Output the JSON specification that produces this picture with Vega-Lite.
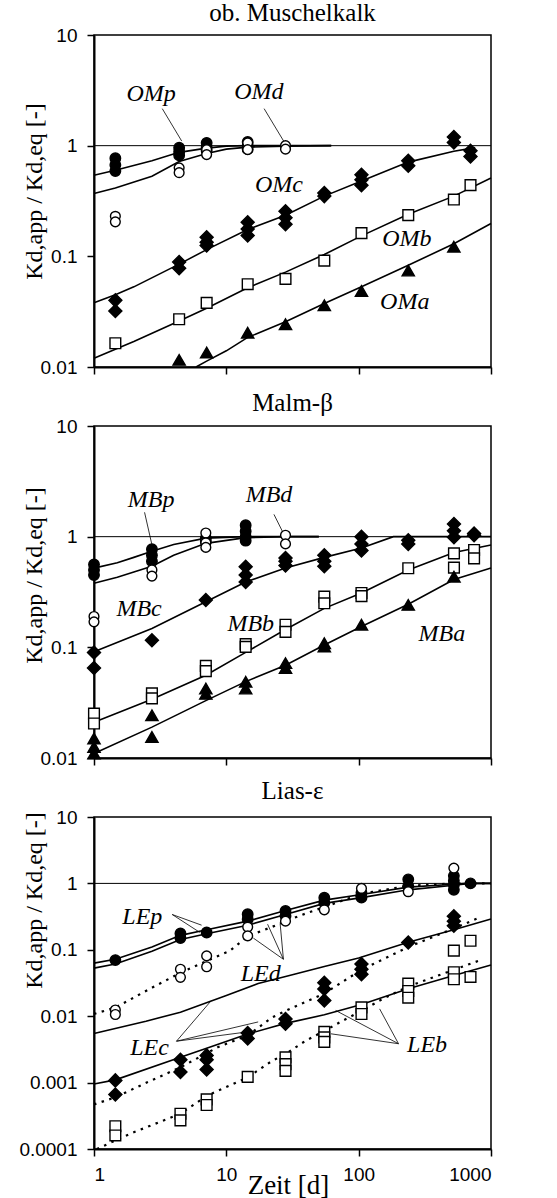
{
  "$schema": "https://vega.github.io/schema/vega-lite/v6.json",
  "background": "white",
  "padding": {"left": 18, "top": 0, "right": 10, "bottom": 0},
  "spacing": 59,
  "bounds": "flush",
  "config": {
    "font": "Liberation Serif",
    "view": {"stroke": "black", "strokeWidth": 1.5},
    "axis": {"domainColor": "black", "domainWidth": 2, "tickColor": "black", "tickWidth": 1.5, "tickSize": 7, "labelColor": "black", "labelFont": "Liberation Sans", "labelFontSize": 19, "labelPadding": 10, "grid": false, "titleFont": "Liberation Serif", "titleFontWeight": "normal", "titleColor": "black", "titleFontSize": 24},
    "title": {"font": "Liberation Serif", "fontSize": 25, "fontWeight": "normal", "color": "black", "anchor": "middle"},
    "text": {"font": "Liberation Serif", "fontStyle": "italic", "fontSize": 24, "color": "black"}
  },
  "datasets": {
    "pts1": [
      {"s":"p","t":1.45,"v":0.77},{"s":"p","t":1.45,"v":0.67},{"s":"p","t":1.45,"v":0.59},
      {"s":"p","t":4.4,"v":0.96},{"s":"p","t":4.4,"v":0.88},{"s":"p","t":4.4,"v":0.82},
      {"s":"p","t":7.1,"v":1.06},{"s":"p","t":7.1,"v":0.97},{"s":"p","t":7.1,"v":0.9},
      {"s":"p","t":14.5,"v":1.08},{"s":"p","t":14.5,"v":1.0},{"s":"p","t":14.5,"v":0.93},
      {"s":"d","t":1.45,"v":0.23},{"s":"d","t":1.45,"v":0.205},{"s":"d","t":4.4,"v":0.63},{"s":"d","t":4.4,"v":0.57},
      {"s":"d","t":7.1,"v":0.92},{"s":"d","t":7.1,"v":0.83},{"s":"d","t":14.5,"v":1.06},{"s":"d","t":14.5,"v":0.92},
      {"s":"d","t":28,"v":1.0},{"s":"d","t":28,"v":0.93},
      {"s":"c","t":1.45,"v":0.04},{"s":"c","t":1.45,"v":0.032},{"s":"c","t":4.4,"v":0.089},{"s":"c","t":4.4,"v":0.078},
      {"s":"c","t":7.1,"v":0.149},{"s":"c","t":7.1,"v":0.134},{"s":"c","t":7.1,"v":0.125},
      {"s":"c","t":14.5,"v":0.203},{"s":"c","t":14.5,"v":0.177},{"s":"c","t":14.5,"v":0.154},
      {"s":"c","t":28,"v":0.256},{"s":"c","t":28,"v":0.223},{"s":"c","t":28,"v":0.195},
      {"s":"c","t":55,"v":0.374},{"s":"c","t":55,"v":0.35},
      {"s":"c","t":105,"v":0.546},{"s":"c","t":105,"v":0.493},{"s":"c","t":105,"v":0.438},
      {"s":"c","t":237,"v":0.73},{"s":"c","t":237,"v":0.66},
      {"s":"c","t":524,"v":1.2},{"s":"c","t":524,"v":1.07},{"s":"c","t":700,"v":0.9},{"s":"c","t":700,"v":0.8},
      {"s":"b","t":1.45,"v":0.0164},{"s":"b","t":4.4,"v":0.027},{"s":"b","t":7.1,"v":0.038},{"s":"b","t":14.5,"v":0.056},
      {"s":"b","t":28,"v":0.0626},{"s":"b","t":55,"v":0.0915},{"s":"b","t":105,"v":0.162},{"s":"b","t":237,"v":0.236},
      {"s":"b","t":524,"v":0.326},{"s":"b","t":700,"v":0.44},
      {"s":"a","t":4.4,"v":0.0116},{"s":"a","t":7.1,"v":0.0135},{"s":"a","t":14.5,"v":0.0204},{"s":"a","t":28,"v":0.0244},
      {"s":"a","t":55,"v":0.0361},{"s":"a","t":105,"v":0.0486},{"s":"a","t":237,"v":0.0744},{"s":"a","t":524,"v":0.122}
    ],
    "lines1": [
      {"curve":"ref","model":"ref","t":1,"v":1},{"curve":"ref","model":"ref","t":1000,"v":1},
      {"curve":"OMp","model":"1","t":1,"v":0.54},{"curve":"OMp","model":"1","t":1.45,"v":0.6},{"curve":"OMp","model":"1","t":2.74,"v":0.73},
      {"curve":"OMp","model":"1","t":4.4,"v":0.87},{"curve":"OMp","model":"1","t":7.1,"v":0.95},{"curve":"OMp","model":"1","t":10,"v":0.99},
      {"curve":"OMp","model":"1","t":14.5,"v":1.0},{"curve":"OMp","model":"1","t":62,"v":1.0},
      {"curve":"OMd","model":"1","t":1,"v":0.37},{"curve":"OMd","model":"1","t":1.45,"v":0.415},{"curve":"OMd","model":"1","t":2.74,"v":0.53},
      {"curve":"OMd","model":"1","t":4.4,"v":0.72},{"curve":"OMd","model":"1","t":7.1,"v":0.85},{"curve":"OMd","model":"1","t":10,"v":0.93},
      {"curve":"OMd","model":"1","t":14.5,"v":0.97},{"curve":"OMd","model":"1","t":28,"v":0.99},{"curve":"OMd","model":"1","t":62,"v":1.0},
      {"curve":"OMc","model":"1","t":1,"v":0.038},{"curve":"OMc","model":"1","t":1.45,"v":0.045},{"curve":"OMc","model":"1","t":2,"v":0.053},
      {"curve":"OMc","model":"1","t":4.4,"v":0.085},{"curve":"OMc","model":"1","t":7.1,"v":0.115},{"curve":"OMc","model":"1","t":14.5,"v":0.175},
      {"curve":"OMc","model":"1","t":28,"v":0.235},{"curve":"OMc","model":"1","t":55,"v":0.35},{"curve":"OMc","model":"1","t":105,"v":0.48},
      {"curve":"OMc","model":"1","t":237,"v":0.71},{"curve":"OMc","model":"1","t":524,"v":0.89},{"curve":"OMc","model":"1","t":760,"v":0.96},
      {"curve":"OMb","model":"1","t":1,"v":0.012},{"curve":"OMb","model":"1","t":1.45,"v":0.0145},{"curve":"OMb","model":"1","t":2,"v":0.017},
      {"curve":"OMb","model":"1","t":4.4,"v":0.026},{"curve":"OMb","model":"1","t":7.1,"v":0.034},{"curve":"OMb","model":"1","t":14.5,"v":0.052},
      {"curve":"OMb","model":"1","t":28,"v":0.072},{"curve":"OMb","model":"1","t":55,"v":0.104},{"curve":"OMb","model":"1","t":105,"v":0.153},
      {"curve":"OMb","model":"1","t":237,"v":0.24},{"curve":"OMb","model":"1","t":524,"v":0.35},{"curve":"OMb","model":"1","t":1000,"v":0.51},
      {"curve":"OMa","model":"1","t":5.9,"v":0.01},{"curve":"OMa","model":"1","t":7.1,"v":0.0113},{"curve":"OMa","model":"1","t":10,"v":0.014},
      {"curve":"OMa","model":"1","t":14.5,"v":0.0185},{"curve":"OMa","model":"1","t":28,"v":0.0256},{"curve":"OMa","model":"1","t":55,"v":0.0375},
      {"curve":"OMa","model":"1","t":105,"v":0.053},{"curve":"OMa","model":"1","t":237,"v":0.083},{"curve":"OMa","model":"1","t":524,"v":0.13},
      {"curve":"OMa","model":"1","t":1000,"v":0.198}
    ],
    "leaders1": [
      {"id":"OMp","t":3.28,"v":2.16},{"id":"OMp","t":4.6,"v":1.1},
      {"id":"OMd","t":19.3,"v":2.16},{"id":"OMd","t":27.3,"v":1.085}
    ],
    "labels1": [
      {"text":"OMp","t":2.7,"v":2.94},{"text":"OMd","t":17.6,"v":3.07},{"text":"OMc","t":25,"v":0.445},
      {"text":"OMb","t":231,"v":0.142},{"text":"OMa","t":223,"v":0.039}
    ],
    "pts2": [
      {"s":"p","t":1,"v":0.56},{"s":"p","t":1,"v":0.5},{"s":"p","t":1,"v":0.45},
      {"s":"p","t":2.74,"v":0.77},{"s":"p","t":2.74,"v":0.68},{"s":"p","t":2.74,"v":0.6},
      {"s":"p","t":7,"v":0.97},{"s":"p","t":7,"v":0.9},
      {"s":"p","t":14,"v":1.27},{"s":"p","t":14,"v":1.12},{"s":"p","t":14,"v":1.0},{"s":"p","t":14,"v":0.92},
      {"s":"d","t":1,"v":0.19},{"s":"d","t":1,"v":0.17},{"s":"d","t":2.74,"v":0.5},{"s":"d","t":2.74,"v":0.44},
      {"s":"d","t":7,"v":1.08},{"s":"d","t":7,"v":0.88},{"s":"d","t":7,"v":0.8},{"s":"d","t":28,"v":1.03},{"s":"d","t":28,"v":0.86},
      {"s":"c","t":1,"v":0.09},{"s":"c","t":1,"v":0.065},{"s":"c","t":2.74,"v":0.116},{"s":"c","t":7,"v":0.268},
      {"s":"c","t":14,"v":0.536},{"s":"c","t":14,"v":0.45},{"s":"c","t":14,"v":0.39},
      {"s":"c","t":28,"v":0.64},{"s":"c","t":28,"v":0.6},{"s":"c","t":28,"v":0.55},
      {"s":"c","t":55,"v":0.68},{"s":"c","t":55,"v":0.6},{"s":"c","t":55,"v":0.54},
      {"s":"c","t":105,"v":1.0},{"s":"c","t":105,"v":0.86},{"s":"c","t":105,"v":0.75},
      {"s":"c","t":237,"v":0.93},{"s":"c","t":237,"v":0.86},
      {"s":"c","t":525,"v":1.3},{"s":"c","t":525,"v":1.13},{"s":"c","t":525,"v":0.99},
      {"s":"c","t":745,"v":1.07},{"s":"c","t":745,"v":1.03},
      {"s":"b","t":1,"v":0.0252},{"s":"b","t":1,"v":0.0205},{"s":"b","t":2.74,"v":0.0384},{"s":"b","t":2.74,"v":0.0346},
      {"s":"b","t":7,"v":0.068},{"s":"b","t":7,"v":0.061},{"s":"b","t":14,"v":0.107},{"s":"b","t":14,"v":0.101},
      {"s":"b","t":28,"v":0.16},{"s":"b","t":28,"v":0.138},{"s":"b","t":55,"v":0.287},{"s":"b","t":55,"v":0.25},
      {"s":"b","t":105,"v":0.31},{"s":"b","t":105,"v":0.29},{"s":"b","t":237,"v":0.518},
      {"s":"b","t":525,"v":0.707},{"s":"b","t":525,"v":0.525},{"s":"b","t":745,"v":0.758},{"s":"b","t":745,"v":0.637},
      {"s":"a","t":1,"v":0.015},{"s":"a","t":1,"v":0.0126},{"s":"a","t":1,"v":0.011},
      {"s":"a","t":2.74,"v":0.0243},{"s":"a","t":2.74,"v":0.0155},{"s":"a","t":7,"v":0.0424},{"s":"a","t":7,"v":0.038},
      {"s":"a","t":14,"v":0.0488},{"s":"a","t":14,"v":0.0424},{"s":"a","t":28,"v":0.072},{"s":"a","t":28,"v":0.065},
      {"s":"a","t":55,"v":0.109},{"s":"a","t":55,"v":0.102},{"s":"a","t":105,"v":0.16},{"s":"a","t":237,"v":0.242},{"s":"a","t":525,"v":0.435}
    ],
    "lines2": [
      {"curve":"ref","model":"ref","t":1,"v":1},{"curve":"ref","model":"ref","t":1000,"v":1},
      {"curve":"MBp","model":"1","t":1,"v":0.52},{"curve":"MBp","model":"1","t":1.5,"v":0.58},{"curve":"MBp","model":"1","t":2,"v":0.65},
      {"curve":"MBp","model":"1","t":2.74,"v":0.74},{"curve":"MBp","model":"1","t":4,"v":0.85},{"curve":"MBp","model":"1","t":7,"v":0.97},
      {"curve":"MBp","model":"1","t":14,"v":1.0},{"curve":"MBp","model":"1","t":50,"v":1.0},
      {"curve":"MBd","model":"1","t":1,"v":0.38},{"curve":"MBd","model":"1","t":1.5,"v":0.43},{"curve":"MBd","model":"1","t":2,"v":0.48},
      {"curve":"MBd","model":"1","t":2.74,"v":0.54},{"curve":"MBd","model":"1","t":4,"v":0.68},{"curve":"MBd","model":"1","t":7,"v":0.87},
      {"curve":"MBd","model":"1","t":14,"v":0.98},{"curve":"MBd","model":"1","t":28,"v":1.0},{"curve":"MBd","model":"1","t":50,"v":1.0},
      {"curve":"MBc","model":"1","t":1,"v":0.091},{"curve":"MBc","model":"1","t":2.74,"v":0.148},{"curve":"MBc","model":"1","t":7,"v":0.258},
      {"curve":"MBc","model":"1","t":14,"v":0.39},{"curve":"MBc","model":"1","t":28,"v":0.52},{"curve":"MBc","model":"1","t":55,"v":0.65},
      {"curve":"MBc","model":"1","t":105,"v":0.79},{"curve":"MBc","model":"1","t":183,"v":1.0},{"curve":"MBc","model":"1","t":1000,"v":1.0},
      {"curve":"MBb","model":"1","t":1,"v":0.021},{"curve":"MBb","model":"1","t":2.74,"v":0.034},{"curve":"MBb","model":"1","t":7,"v":0.056},
      {"curve":"MBb","model":"1","t":14,"v":0.09},{"curve":"MBb","model":"1","t":28,"v":0.145},{"curve":"MBb","model":"1","t":55,"v":0.225},
      {"curve":"MBb","model":"1","t":105,"v":0.31},{"curve":"MBb","model":"1","t":237,"v":0.5},{"curve":"MBb","model":"1","t":525,"v":0.72},
      {"curve":"MBb","model":"1","t":1000,"v":0.84},
      {"curve":"MBa","model":"1","t":1,"v":0.011},{"curve":"MBa","model":"1","t":2.74,"v":0.019},{"curve":"MBa","model":"1","t":7,"v":0.033},
      {"curve":"MBa","model":"1","t":14,"v":0.049},{"curve":"MBa","model":"1","t":28,"v":0.069},{"curve":"MBa","model":"1","t":55,"v":0.105},
      {"curve":"MBa","model":"1","t":105,"v":0.154},{"curve":"MBa","model":"1","t":237,"v":0.245},{"curve":"MBa","model":"1","t":525,"v":0.41},
      {"curve":"MBa","model":"1","t":1000,"v":0.52}
    ],
    "leaders2": [
      {"id":"MBp","t":2.41,"v":1.66},{"id":"MBp","t":2.73,"v":0.86},
      {"id":"MBd","t":22.9,"v":1.59},{"id":"MBd","t":26.8,"v":1.09}
    ],
    "labels2": [
      {"text":"MBp","t":2.7,"v":2.13},{"text":"MBd","t":21,"v":2.36},{"text":"MBc","t":2.19,"v":0.224},
      {"text":"MBb","t":15.3,"v":0.164},{"text":"MBa","t":425,"v":0.133}
    ],
    "pts3": [
      {"s":"p","t":1.45,"v":0.07},{"s":"p","t":4.5,"v":0.176},{"s":"p","t":4.5,"v":0.15},{"s":"p","t":7.1,"v":0.182},
      {"s":"p","t":14.5,"v":0.343},{"s":"p","t":14.5,"v":0.288},{"s":"p","t":28,"v":0.385},{"s":"p","t":28,"v":0.324},
      {"s":"p","t":55,"v":0.61},{"s":"p","t":55,"v":0.51},{"s":"p","t":105,"v":0.72},{"s":"p","t":105,"v":0.61},
      {"s":"p","t":237,"v":1.15},{"s":"p","t":237,"v":0.91},
      {"s":"p","t":524,"v":1.3},{"s":"p","t":524,"v":1.1},{"s":"p","t":524,"v":0.95},{"s":"p","t":524,"v":0.8},{"s":"p","t":700,"v":1.0},
      {"s":"d","t":1.45,"v":0.0124},{"s":"d","t":1.45,"v":0.0106},{"s":"d","t":4.5,"v":0.051},{"s":"d","t":4.5,"v":0.0385},
      {"s":"d","t":7.1,"v":0.081},{"s":"d","t":7.1,"v":0.0556},{"s":"d","t":14.5,"v":0.22},{"s":"d","t":14.5,"v":0.162},
      {"s":"d","t":28,"v":0.27},{"s":"d","t":55,"v":0.4},{"s":"d","t":105,"v":0.84},{"s":"d","t":237,"v":0.75},{"s":"d","t":524,"v":1.7},
      {"s":"c","t":1.45,"v":0.00108},{"s":"c","t":1.45,"v":0.00066},{"s":"c","t":4.5,"v":0.0022},{"s":"c","t":4.5,"v":0.00145},
      {"s":"c","t":7.1,"v":0.00257},{"s":"c","t":7.1,"v":0.0022},{"s":"c","t":7.1,"v":0.00157},
      {"s":"c","t":14.5,"v":0.0056},{"s":"c","t":14.5,"v":0.0046},{"s":"c","t":28,"v":0.0091},{"s":"c","t":28,"v":0.0077},
      {"s":"c","t":55,"v":0.032},{"s":"c","t":55,"v":0.0257},{"s":"c","t":55,"v":0.0172},
      {"s":"c","t":105,"v":0.061},{"s":"c","t":105,"v":0.051},{"s":"c","t":105,"v":0.043},{"s":"c","t":237,"v":0.129},
      {"s":"c","t":524,"v":0.32},{"s":"c","t":524,"v":0.27},{"s":"c","t":524,"v":0.23},
      {"s":"b","t":1.45,"v":0.00022},{"s":"b","t":1.45,"v":0.00016},{"s":"b","t":4.5,"v":0.00034},{"s":"b","t":4.5,"v":0.00027},
      {"s":"b","t":7.1,"v":0.00056},{"s":"b","t":7.1,"v":0.00046},{"s":"b","t":14.5,"v":0.00122},
      {"s":"b","t":28,"v":0.0024},{"s":"b","t":28,"v":0.0019},{"s":"b","t":28,"v":0.0015},
      {"s":"b","t":55,"v":0.0058},{"s":"b","t":55,"v":0.0048},{"s":"b","t":55,"v":0.0041},
      {"s":"b","t":105,"v":0.0136},{"s":"b","t":105,"v":0.0108},{"s":"b","t":237,"v":0.031},{"s":"b","t":237,"v":0.024},{"s":"b","t":237,"v":0.019},
      {"s":"b","t":524,"v":0.097},{"s":"b","t":524,"v":0.046},{"s":"b","t":524,"v":0.036},{"s":"b","t":700,"v":0.137},{"s":"b","t":700,"v":0.039}
    ],
    "lines3": [
      {"curve":"ref","model":"ref","t":1,"v":1},{"curve":"ref","model":"ref","t":1000,"v":1},
      {"curve":"LEp","model":"1","t":1,"v":0.063},{"curve":"LEp","model":"1","t":1.45,"v":0.072},{"curve":"LEp","model":"1","t":2.74,"v":0.11},
      {"curve":"LEp","model":"1","t":4.5,"v":0.165},{"curve":"LEp","model":"1","t":7.1,"v":0.2},{"curve":"LEp","model":"1","t":14.5,"v":0.27},
      {"curve":"LEp","model":"1","t":28,"v":0.39},{"curve":"LEp","model":"1","t":55,"v":0.56},{"curve":"LEp","model":"1","t":105,"v":0.68},
      {"curve":"LEp","model":"1","t":237,"v":0.88},{"curve":"LEp","model":"1","t":524,"v":0.97},{"curve":"LEp","model":"1","t":640,"v":1.0},
      {"curve":"LEp","model":"1","t":1000,"v":1.0},
      {"curve":"LEd1","model":"1","t":1,"v":0.053},{"curve":"LEd1","model":"1","t":1.45,"v":0.061},{"curve":"LEd1","model":"1","t":2.74,"v":0.095},
      {"curve":"LEd1","model":"1","t":4.5,"v":0.143},{"curve":"LEd1","model":"1","t":7.1,"v":0.175},{"curve":"LEd1","model":"1","t":14.5,"v":0.235},
      {"curve":"LEd1","model":"1","t":28,"v":0.34},{"curve":"LEd1","model":"1","t":55,"v":0.5},{"curve":"LEd1","model":"1","t":105,"v":0.61},
      {"curve":"LEd1","model":"1","t":237,"v":0.8},{"curve":"LEd1","model":"1","t":524,"v":0.94},{"curve":"LEd1","model":"1","t":700,"v":1.0},
      {"curve":"LEd1","model":"1","t":1000,"v":1.0},
      {"curve":"LEc1","model":"1","t":1,"v":0.0055},{"curve":"LEc1","model":"1","t":2.47,"v":0.0084},{"curve":"LEc1","model":"1","t":4.5,"v":0.0115},
      {"curve":"LEc1","model":"1","t":10,"v":0.0205},{"curve":"LEc1","model":"1","t":17.4,"v":0.031},{"curve":"LEc1","model":"1","t":30,"v":0.041},
      {"curve":"LEc1","model":"1","t":55,"v":0.056},{"curve":"LEc1","model":"1","t":100,"v":0.075},{"curve":"LEc1","model":"1","t":237,"v":0.13},
      {"curve":"LEc1","model":"1","t":524,"v":0.2},{"curve":"LEc1","model":"1","t":1000,"v":0.29},
      {"curve":"LEb1","model":"1","t":1,"v":0.00095},{"curve":"LEb1","model":"1","t":1.45,"v":0.0011},{"curve":"LEb1","model":"1","t":4.5,"v":0.0024},
      {"curve":"LEb1","model":"1","t":7.1,"v":0.0033},{"curve":"LEb1","model":"1","t":14.5,"v":0.0054},{"curve":"LEb1","model":"1","t":22,"v":0.0068},
      {"curve":"LEb1","model":"1","t":28,"v":0.0078},{"curve":"LEb1","model":"1","t":55,"v":0.0105},{"curve":"LEb1","model":"1","t":105,"v":0.015},
      {"curve":"LEb1","model":"1","t":237,"v":0.026},{"curve":"LEb1","model":"1","t":524,"v":0.041},{"curve":"LEb1","model":"1","t":1000,"v":0.059},
      {"curve":"LEd2","model":"2","t":1,"v":0.0108},{"curve":"LEd2","model":"2","t":1.45,"v":0.0135},{"curve":"LEd2","model":"2","t":2.76,"v":0.027},
      {"curve":"LEd2","model":"2","t":4.5,"v":0.045},{"curve":"LEd2","model":"2","t":7.1,"v":0.068},{"curve":"LEd2","model":"2","t":10.6,"v":0.096},
      {"curve":"LEd2","model":"2","t":14.5,"v":0.16},{"curve":"LEd2","model":"2","t":22,"v":0.22},{"curve":"LEd2","model":"2","t":28,"v":0.27},
      {"curve":"LEd2","model":"2","t":41,"v":0.36},{"curve":"LEd2","model":"2","t":55,"v":0.44},{"curve":"LEd2","model":"2","t":105,"v":0.7},
      {"curve":"LEd2","model":"2","t":237,"v":0.92},{"curve":"LEd2","model":"2","t":524,"v":1.0},{"curve":"LEd2","model":"2","t":1000,"v":1.0},
      {"curve":"LEc2","model":"2","t":1,"v":0.00047},{"curve":"LEc2","model":"2","t":1.45,"v":0.0006},{"curve":"LEc2","model":"2","t":2.5,"v":0.001},
      {"curve":"LEc2","model":"2","t":4.5,"v":0.0017},{"curve":"LEc2","model":"2","t":8.6,"v":0.0034},{"curve":"LEc2","model":"2","t":14.7,"v":0.0052},
      {"curve":"LEc2","model":"2","t":22,"v":0.0095},{"curve":"LEc2","model":"2","t":28,"v":0.012},{"curve":"LEc2","model":"2","t":55,"v":0.022},
      {"curve":"LEc2","model":"2","t":105,"v":0.05},{"curve":"LEc2","model":"2","t":237,"v":0.11},{"curve":"LEc2","model":"2","t":524,"v":0.21},
      {"curve":"LEc2","model":"2","t":800,"v":0.3},
      {"curve":"LEb2","model":"2","t":1.05,"v":0.0001},{"curve":"LEb2","model":"2","t":1.88,"v":0.00017},{"curve":"LEb2","model":"2","t":4.5,"v":0.00034},
      {"curve":"LEb2","model":"2","t":7.1,"v":0.00063},{"curve":"LEb2","model":"2","t":14.5,"v":0.0012},{"curve":"LEb2","model":"2","t":22,"v":0.0021},
      {"curve":"LEb2","model":"2","t":28,"v":0.0027},{"curve":"LEb2","model":"2","t":40,"v":0.0043},{"curve":"LEb2","model":"2","t":55,"v":0.006},
      {"curve":"LEb2","model":"2","t":77,"v":0.0087},{"curve":"LEb2","model":"2","t":105,"v":0.012},{"curve":"LEb2","model":"2","t":150,"v":0.018},
      {"curve":"LEb2","model":"2","t":237,"v":0.028},{"curve":"LEb2","model":"2","t":524,"v":0.05},{"curve":"LEb2","model":"2","t":800,"v":0.068}
    ],
    "leaders3": [
      {"id":"p1","t":3.9,"v":0.34},{"id":"p1","t":6.5,"v":0.235},
      {"id":"p2","t":3.9,"v":0.34},{"id":"p2","t":6.3,"v":0.183},
      {"id":"d1","t":27,"v":0.072},{"id":"d1","t":16,"v":0.15},
      {"id":"d2","t":27,"v":0.072},{"id":"d2","t":20.5,"v":0.243},
      {"id":"d3","t":27,"v":0.072},{"id":"d3","t":25.5,"v":0.25},
      {"id":"c1","t":4.2,"v":0.0042},{"id":"c1","t":7.7,"v":0.0172},
      {"id":"c2","t":4.2,"v":0.0042},{"id":"c2","t":17.4,"v":0.0082},
      {"id":"c3","t":4.2,"v":0.0042},{"id":"c3","t":14.4,"v":0.0058},
      {"id":"b1","t":200,"v":0.00385},{"id":"b1","t":67,"v":0.0122},
      {"id":"b2","t":200,"v":0.00385},{"id":"b2","t":144,"v":0.0129},
      {"id":"b3","t":200,"v":0.00385},{"id":"b3","t":61.8,"v":0.00543}
    ],
    "labels3": [
      {"text":"LEp","t":2.32,"v":0.31},{"text":"LEd","t":18.2,"v":0.0437},
      {"text":"LEc","t":2.63,"v":0.00336},{"text":"LEb","t":329,"v":0.00363}
    ]
  },
  "vconcat": [
    {
      "width": 397, "height": 332,
      "title": {"text": "ob. Muschelkalk", "offset": 0, "font": "Liberation Serif"},
      "encoding": {
        "x": {"field": "t", "type": "quantitative", "scale": {"type": "log", "domain": [1, 1000], "nice": false}, "axis": {"values": [1, 10, 100, 1000], "labels": false, "title": null}},
        "y": {"field": "v", "type": "quantitative", "scale": {"type": "log", "domain": [0.01, 10], "nice": false}, "axis": {"values": [0.01, 0.1, 1, 10], "format": "~g", "title": "Kd,app / Kd,eq  [-]", "titleFont": "Liberation Serif", "titleX": -53, "titleY": 156, "titleBaseline": "alphabetic"}}
      },
      "layer": [
        {"data": {"name": "lines1"}, "transform": [{"filter": "datum.model === 'ref'"}], "mark": {"type": "line", "color": "black", "strokeWidth": 1}, "encoding": {"detail": {"field": "curve"}}},
        {"data": {"name": "lines1"}, "transform": [{"filter": "datum.model === '1'"}], "mark": {"type": "line", "color": "black", "strokeWidth": 1.6}, "encoding": {"detail": {"field": "curve"}}},
        {"data": {"name": "leaders1"}, "mark": {"type": "line", "color": "black", "strokeWidth": 0.8}, "encoding": {"detail": {"field": "id"}}},
        {"data": {"name": "pts1"}, "mark": {"type": "point", "filled": true, "stroke": "black", "strokeWidth": 1.4, "opacity": 1},
         "encoding": {
           "shape": {"field": "s", "type": "nominal", "scale": {"domain": ["p","d","c","b","a"], "range": ["circle","circle","diamond","square","triangle-up"]}, "legend": null},
           "fill": {"field": "s", "type": "nominal", "scale": {"domain": ["p","d","c","b","a"], "range": ["black","white","black","white","black"]}, "legend": null},
           "size": {"field": "s", "type": "nominal", "scale": {"type": "ordinal", "domain": ["p","d","c","b","a"], "range": [110, 95, 170, 115, 150]}, "legend": null}
         }},
        {"data": {"name": "labels1"}, "mark": {"type": "text"}, "encoding": {"text": {"field": "text"}}}
      ]
    },
    {
      "width": 397, "height": 332,
      "title": {"text": "Malm-β", "offset": 1, "font": "Liberation Serif"},
      "encoding": {
        "x": {"field": "t", "type": "quantitative", "scale": {"type": "log", "domain": [1, 1000], "nice": false}, "axis": {"values": [1, 10, 100, 1000], "labels": false, "title": null}},
        "y": {"field": "v", "type": "quantitative", "scale": {"type": "log", "domain": [0.01, 10], "nice": false}, "axis": {"values": [0.01, 0.1, 1, 10], "format": "~g", "title": "Kd,app / Kd,eq  [-]", "titleFont": "Liberation Serif", "titleX": -53, "titleY": 149, "titleBaseline": "alphabetic"}}
      },
      "layer": [
        {"data": {"name": "lines2"}, "transform": [{"filter": "datum.model === 'ref'"}], "mark": {"type": "line", "color": "black", "strokeWidth": 1}, "encoding": {"detail": {"field": "curve"}}},
        {"data": {"name": "lines2"}, "transform": [{"filter": "datum.model === '1'"}], "mark": {"type": "line", "color": "black", "strokeWidth": 1.6}, "encoding": {"detail": {"field": "curve"}}},
        {"data": {"name": "leaders2"}, "mark": {"type": "line", "color": "black", "strokeWidth": 0.8}, "encoding": {"detail": {"field": "id"}}},
        {"data": {"name": "pts2"}, "mark": {"type": "point", "filled": true, "stroke": "black", "strokeWidth": 1.4, "opacity": 1},
         "encoding": {
           "shape": {"field": "s", "type": "nominal", "scale": {"domain": ["p","d","c","b","a"], "range": ["circle","circle","diamond","square","triangle-up"]}, "legend": null},
           "fill": {"field": "s", "type": "nominal", "scale": {"domain": ["p","d","c","b","a"], "range": ["black","white","black","white","black"]}, "legend": null},
           "size": {"field": "s", "type": "nominal", "scale": {"type": "ordinal", "domain": ["p","d","c","b","a"], "range": [110, 95, 170, 115, 150]}, "legend": null}
         }},
        {"data": {"name": "labels2"}, "mark": {"type": "text"}, "encoding": {"text": {"field": "text"}}}
      ]
    },
    {
      "width": 397, "height": 332,
      "title": {"text": "Lias-ε", "offset": 4, "font": "Liberation Serif"},
      "encoding": {
        "x": {"field": "t", "type": "quantitative", "scale": {"type": "log", "domain": [1, 1000], "nice": false}, "axis": {"values": [1, 10, 100, 1000], "format": "~g", "labelPadding": 9, "title": "Zeit [d]", "titleFont": "Liberation Serif", "titleFontSize": 27, "titleY": 44, "titleX": 194, "titleBaseline": "alphabetic"}},
        "y": {"field": "v", "type": "quantitative", "scale": {"type": "log", "domain": [0.0001, 10], "nice": false}, "axis": {"values": [0.0001, 0.001, 0.01, 0.1, 1, 10], "format": "~g", "title": "Kd,app / Kd,eq  [-]", "titleFont": "Liberation Serif", "titleX": -53, "titleY": 83, "titleBaseline": "alphabetic"}}
      },
      "layer": [
        {"data": {"name": "lines3"}, "transform": [{"filter": "datum.model === 'ref'"}], "mark": {"type": "line", "color": "black", "strokeWidth": 1}, "encoding": {"detail": {"field": "curve"}}},
        {"data": {"name": "lines3"}, "transform": [{"filter": "datum.model === '1'"}], "mark": {"type": "line", "color": "black", "strokeWidth": 1.6}, "encoding": {"detail": {"field": "curve"}}},
        {"data": {"name": "lines3"}, "transform": [{"filter": "datum.model === '2'"}], "mark": {"type": "line", "color": "black", "strokeWidth": 2.2, "strokeDash": [2.5, 5.5]}, "encoding": {"detail": {"field": "curve"}}},
        {"data": {"name": "leaders3"}, "mark": {"type": "line", "color": "black", "strokeWidth": 0.8}, "encoding": {"detail": {"field": "id"}}},
        {"data": {"name": "pts3"}, "mark": {"type": "point", "filled": true, "stroke": "black", "strokeWidth": 1.4, "opacity": 1},
         "encoding": {
           "shape": {"field": "s", "type": "nominal", "scale": {"domain": ["p","d","c","b","a"], "range": ["circle","circle","diamond","square","triangle-up"]}, "legend": null},
           "fill": {"field": "s", "type": "nominal", "scale": {"domain": ["p","d","c","b","a"], "range": ["black","white","black","white","black"]}, "legend": null},
           "size": {"field": "s", "type": "nominal", "scale": {"type": "ordinal", "domain": ["p","d","c","b","a"], "range": [110, 95, 170, 115, 150]}, "legend": null}
         }},
        {"data": {"name": "labels3"}, "mark": {"type": "text"}, "encoding": {"text": {"field": "text"}}}
      ]
    }
  ]
}
